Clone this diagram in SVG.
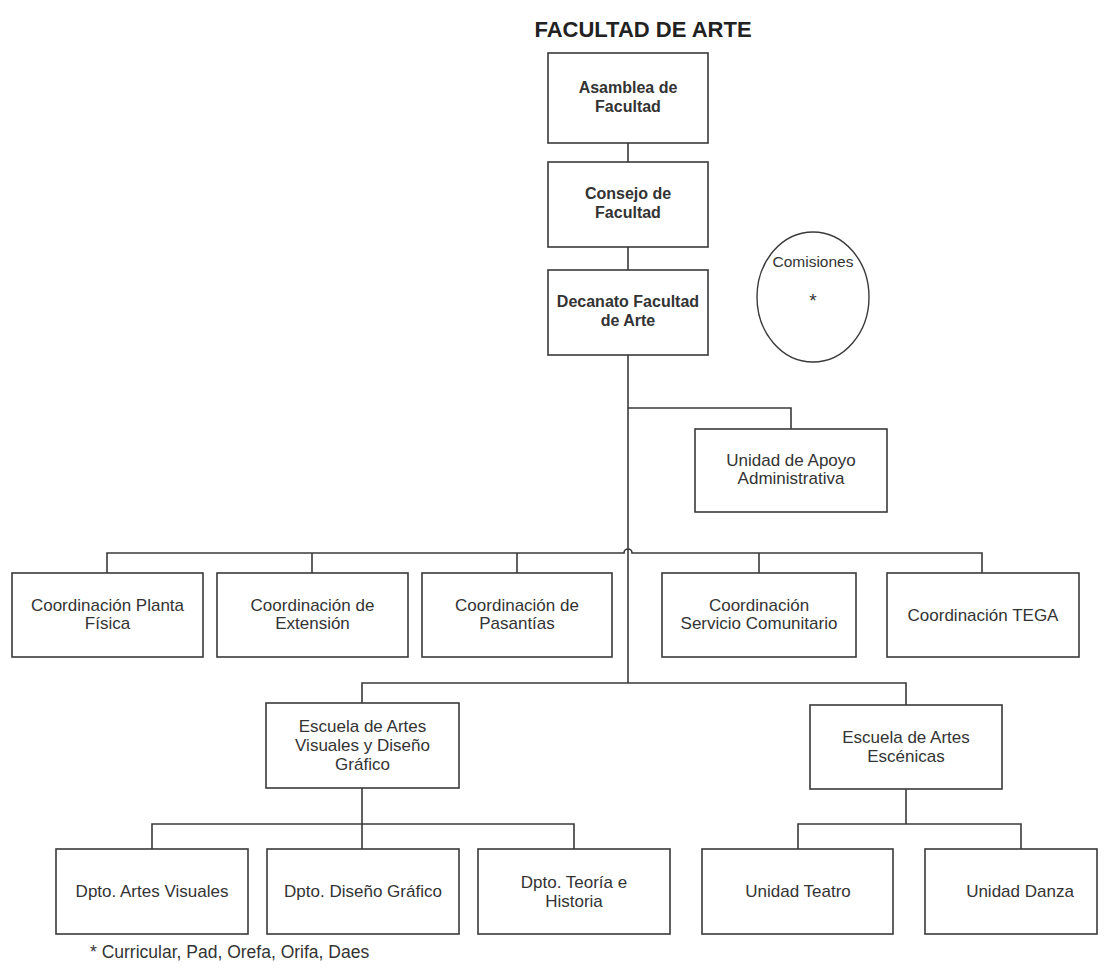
<svg xmlns="http://www.w3.org/2000/svg" width="1106" height="970" viewBox="0 0 1106 970">
<style>
.box{fill:#fff;stroke:#3a3a3a;stroke-width:1.6}
.ln{fill:none;stroke:#3a3a3a;stroke-width:1.6}
.t{font-family:"Liberation Sans",Arial,sans-serif;font-size:17px;fill:#333;text-anchor:middle}
.b{font-family:"Liberation Sans",Arial,sans-serif;font-size:16px;font-weight:bold;fill:#333;text-anchor:middle}
.title{font-family:"Liberation Sans",Arial,sans-serif;font-size:22px;font-weight:bold;fill:#222;text-anchor:middle}
</style>
<rect width="1106" height="970" fill="#fff"/>
<text class="title" x="643" y="37">FACULTAD DE ARTE</text>
<g id="connectors">
<path class="ln" d="M628 143V162M628 247V270"/>
<path class="ln" d="M628 355V683"/>
<path class="ln" d="M628 408H791V429"/>
<path class="ln" d="M107 573V553H624A4 4 0 0 1 632 553H982V573M312 553V573M517 553V573M759 553V573"/>
<path class="ln" d="M362 703V683H906V705"/>
<path class="ln" d="M362 788V849M152 849V824H574V849"/>
<path class="ln" d="M906 789V824M798 849V824H1021V849"/>
</g>
<g id="asamblea"><rect class="box" x="548" y="53" width="160" height="90"/><text class="b" x="628" y="93">Asamblea de</text><text class="b" x="628" y="112">Facultad</text></g>
<g id="consejo"><rect class="box" x="548" y="162" width="160" height="85"/><text class="b" x="628" y="199">Consejo de</text><text class="b" x="628" y="218">Facultad</text></g>
<g id="decanato"><rect class="box" x="548" y="270" width="160" height="85"/><text class="b" x="628" y="307">Decanato Facultad</text><text class="b" x="628" y="326">de Arte</text></g>
<g id="comisiones"><ellipse cx="813" cy="297" rx="56" ry="65" fill="#fff" stroke="#3a3a3a" stroke-width="1.4"/><text class="t" x="813" y="267" style="font-size:15.5px">Comisiones</text><text class="t" x="813" y="307" style="font-size:19px">*</text></g>
<g id="apoyo"><rect class="box" x="695" y="429" width="192" height="83"/><text class="t" x="791" y="466">Unidad de Apoyo</text><text class="t" x="791" y="484">Administrativa</text></g>
<g id="c1"><rect class="box" x="12" y="573" width="191" height="84"/><text class="t" x="107.5" y="611">Coordinación Planta</text><text class="t" x="107.5" y="629">Física</text></g>
<g id="c2"><rect class="box" x="217" y="573" width="191" height="84"/><text class="t" x="312.5" y="611">Coordinación de</text><text class="t" x="312.5" y="629">Extensión</text></g>
<g id="c3"><rect class="box" x="422" y="573" width="190" height="84"/><text class="t" x="517" y="611">Coordinación de</text><text class="t" x="517" y="629">Pasantías</text></g>
<g id="c4"><rect class="box" x="662" y="573" width="194" height="84"/><text class="t" x="759" y="611">Coordinación</text><text class="t" x="759" y="629">Servicio Comunitario</text></g>
<g id="c5"><rect class="box" x="887" y="573" width="192" height="84"/><text class="t" x="983" y="621">Coordinación TEGA</text></g>
<g id="eav"><rect class="box" x="266" y="703" width="193" height="85"/><text class="t" x="362.5" y="732">Escuela de Artes</text><text class="t" x="362.5" y="751">Visuales y Diseño</text><text class="t" x="362.5" y="770">Gráfico</text></g>
<g id="eae"><rect class="box" x="810" y="705" width="192" height="84"/><text class="t" x="906" y="743">Escuela de Artes</text><text class="t" x="906" y="762">Escénicas</text></g>
<g id="d1"><rect class="box" x="56" y="849" width="192" height="85"/><text class="t" x="152" y="897">Dpto. Artes Visuales</text></g>
<g id="d2"><rect class="box" x="267" y="849" width="192" height="85"/><text class="t" x="363" y="897">Dpto. Diseño Gráfico</text></g>
<g id="d3"><rect class="box" x="478" y="849" width="192" height="85"/><text class="t" x="574" y="888">Dpto. Teoría e</text><text class="t" x="574" y="907">Historia</text></g>
<g id="teatro"><rect class="box" x="702" y="849" width="191" height="85"/><text class="t" x="798" y="897">Unidad Teatro</text></g>
<g id="danza"><rect class="box" x="925" y="849" width="172" height="85"/><text class="t" x="1020" y="897">Unidad Danza</text></g>
<text class="t" x="90" y="958" style="text-anchor:start;font-size:17.5px">* Curricular, Pad, Orefa, Orifa, Daes</text>
</svg>
